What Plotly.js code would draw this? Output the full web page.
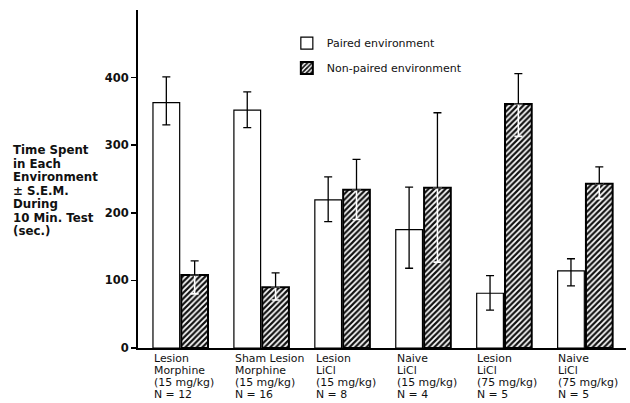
<!DOCTYPE html>
<html>
<head>
<meta charset="utf-8">
<script src="https://cdn.plot.ly/plotly-3.0.1.min.js"></script>
<style>html,body{margin:0;padding:0;background:#fff;}#chart{width:630px;height:403px;}</style>
</head>
<body>
<div id="chart"></div>
<script>
// ---- data ----
var categories = ["g1", "g2", "g3", "g4", "g5", "g6"];
var categoryLabels = [
  "Lesion<br>Morphine<br>(15 mg/kg)<br>N = 12",
  "Sham Lesion<br>Morphine<br>(15 mg/kg)<br>N = 16",
  "Lesion<br>LiCl<br>(15 mg/kg)<br>N = 8",
  "Naive<br>LiCl<br>(15 mg/kg)<br>N = 4",
  "Lesion<br>LiCl<br>(75 mg/kg)<br>N = 5",
  "Naive<br>LiCl<br>(75 mg/kg)<br>N = 5"
];
var pairedValues   = [363, 352, 219, 175, 81, 114];
var pairedErrPlus  = [38, 27, 34, 63, 26, 18];
var pairedErrMinus = [33, 26, 32, 57, 25, 22];
var nonPairedValues   = [108, 90, 234, 237, 361, 243];
var nonPairedErrPlus  = [21, 21, 45, 111, 45, 25];
var nonPairedErrMinus = [28, 19, 44, 110, 48, 22];
var yTickVals = [0, 100, 200, 300, 400];
var seriesNames = ["Paired environment", "Non-paired environment"];
var yTitleText = "Time Spent<br>in Each<br>Environment<br>± S.E.M.<br>During<br>10 Min. Test<br>(sec.)";

var FONT = "DejaVu Sans, Verdana, sans-serif";
var zeros = categories.map(function(){ return 0; });
var BW = 0.33;

var traces = [
  {
    type: "bar", name: seriesNames[0], x: categories, y: pairedValues,
    width: BW, offset: -0.345,
    marker: {color: "#ffffff", line: {color: "#000", width: 1.2}},
    error_y: {type: "data", symmetric: false, array: pairedErrPlus, arrayminus: pairedErrMinus,
              color: "#000", thickness: 1.3, width: 4},
    legendgroup: "a", hoverinfo: "skip"
  },
  {
    type: "bar", name: seriesNames[1], x: categories, y: nonPairedValues,
    width: BW, offset: 0.005,
    marker: {color: "#ffffff", line: {color: "#000", width: 2},
             pattern: {shape: "/", size: 4, solidity: 0.55, fgcolor: "#111", bgcolor: "#fff"}},
    legendgroup: "b", hoverinfo: "skip"
  },
  {
    type: "bar", x: categories, y: nonPairedValues, showlegend: false,
    width: BW, offset: 0.005,
    marker: {color: "rgba(0,0,0,0)", line: {width: 0}},
    error_y: {type: "data", symmetric: false, array: zeros, arrayminus: nonPairedErrMinus,
              color: "#fff", thickness: 1.6, width: 4},
    hoverinfo: "skip"
  },
  {
    type: "bar", x: categories, y: nonPairedValues, showlegend: false,
    width: BW, offset: 0.005,
    marker: {color: "rgba(0,0,0,0)", line: {width: 0}},
    error_y: {type: "data", symmetric: false, array: nonPairedErrPlus, arrayminus: zeros,
              color: "#000", thickness: 1.3, width: 4},
    hoverinfo: "skip"
  }
];

// plot area: top 10px, bottom 348px (338px tall); left 138px, width 488px
function pyToPaper(py){ return (348 - py) / 338; }
function pxToPaper(px){ return (px - 138) / 488; }

var annotations = [];
categoryLabels.forEach(function(t, i){
  t.split("<br>").forEach(function(line, k){
    annotations.push({
      xref: "x", yref: "paper", x: i - 0.36, y: pyToPaper(358 + k * 12.3),
      xanchor: "left", yanchor: "middle",
      text: line, align: "left", showarrow: false,
      font: {family: FONT, size: 10.9, color: "#111"}
    });
  });
});
yTitleText.split("<br>").forEach(function(line, k){
  annotations.push({
    xref: "paper", yref: "paper", x: pxToPaper(11), y: pyToPaper(150 + k * 13.5),
    xanchor: "left", yanchor: "middle",
    text: "<b>" + line + "</b>", align: "left", showarrow: false,
    font: {family: FONT, size: 11.8, color: "#111"}
  });
});

var layout = {
  width: 630, height: 403,
  margin: {l: 138, r: 4, t: 10, b: 55},
  paper_bgcolor: "#fff", plot_bgcolor: "#fff",
  barmode: "overlay",
  showlegend: true,
  legend: {x: 0.305, y: 0.945, xanchor: "left", yanchor: "top",
           font: {family: FONT, size: 11, color: "#111"},
           bgcolor: "rgba(255,255,255,0)", traceorder: "grouped", tracegroupgap: 6},
  xaxis: {type: "category", range: [-0.53, 5.5], showline: true, linecolor: "#000", linewidth: 1.5,
          showticklabels: false, ticks: "", showgrid: false, zeroline: false, fixedrange: true},
  yaxis: {range: [0, 500], tickvals: yTickVals, ticks: "outside", ticklen: 5, tickwidth: 1.5,
          tickcolor: "#000", showline: true, linecolor: "#000", linewidth: 2, showgrid: false,
          zeroline: false,
          tickfont: {family: FONT, size: 11.5, color: "#111", weight: "bold"}},
  annotations: annotations
};

Plotly.newPlot("chart", traces, layout, {displayModeBar: false, staticPlot: true});
</script>
</body>
</html>
